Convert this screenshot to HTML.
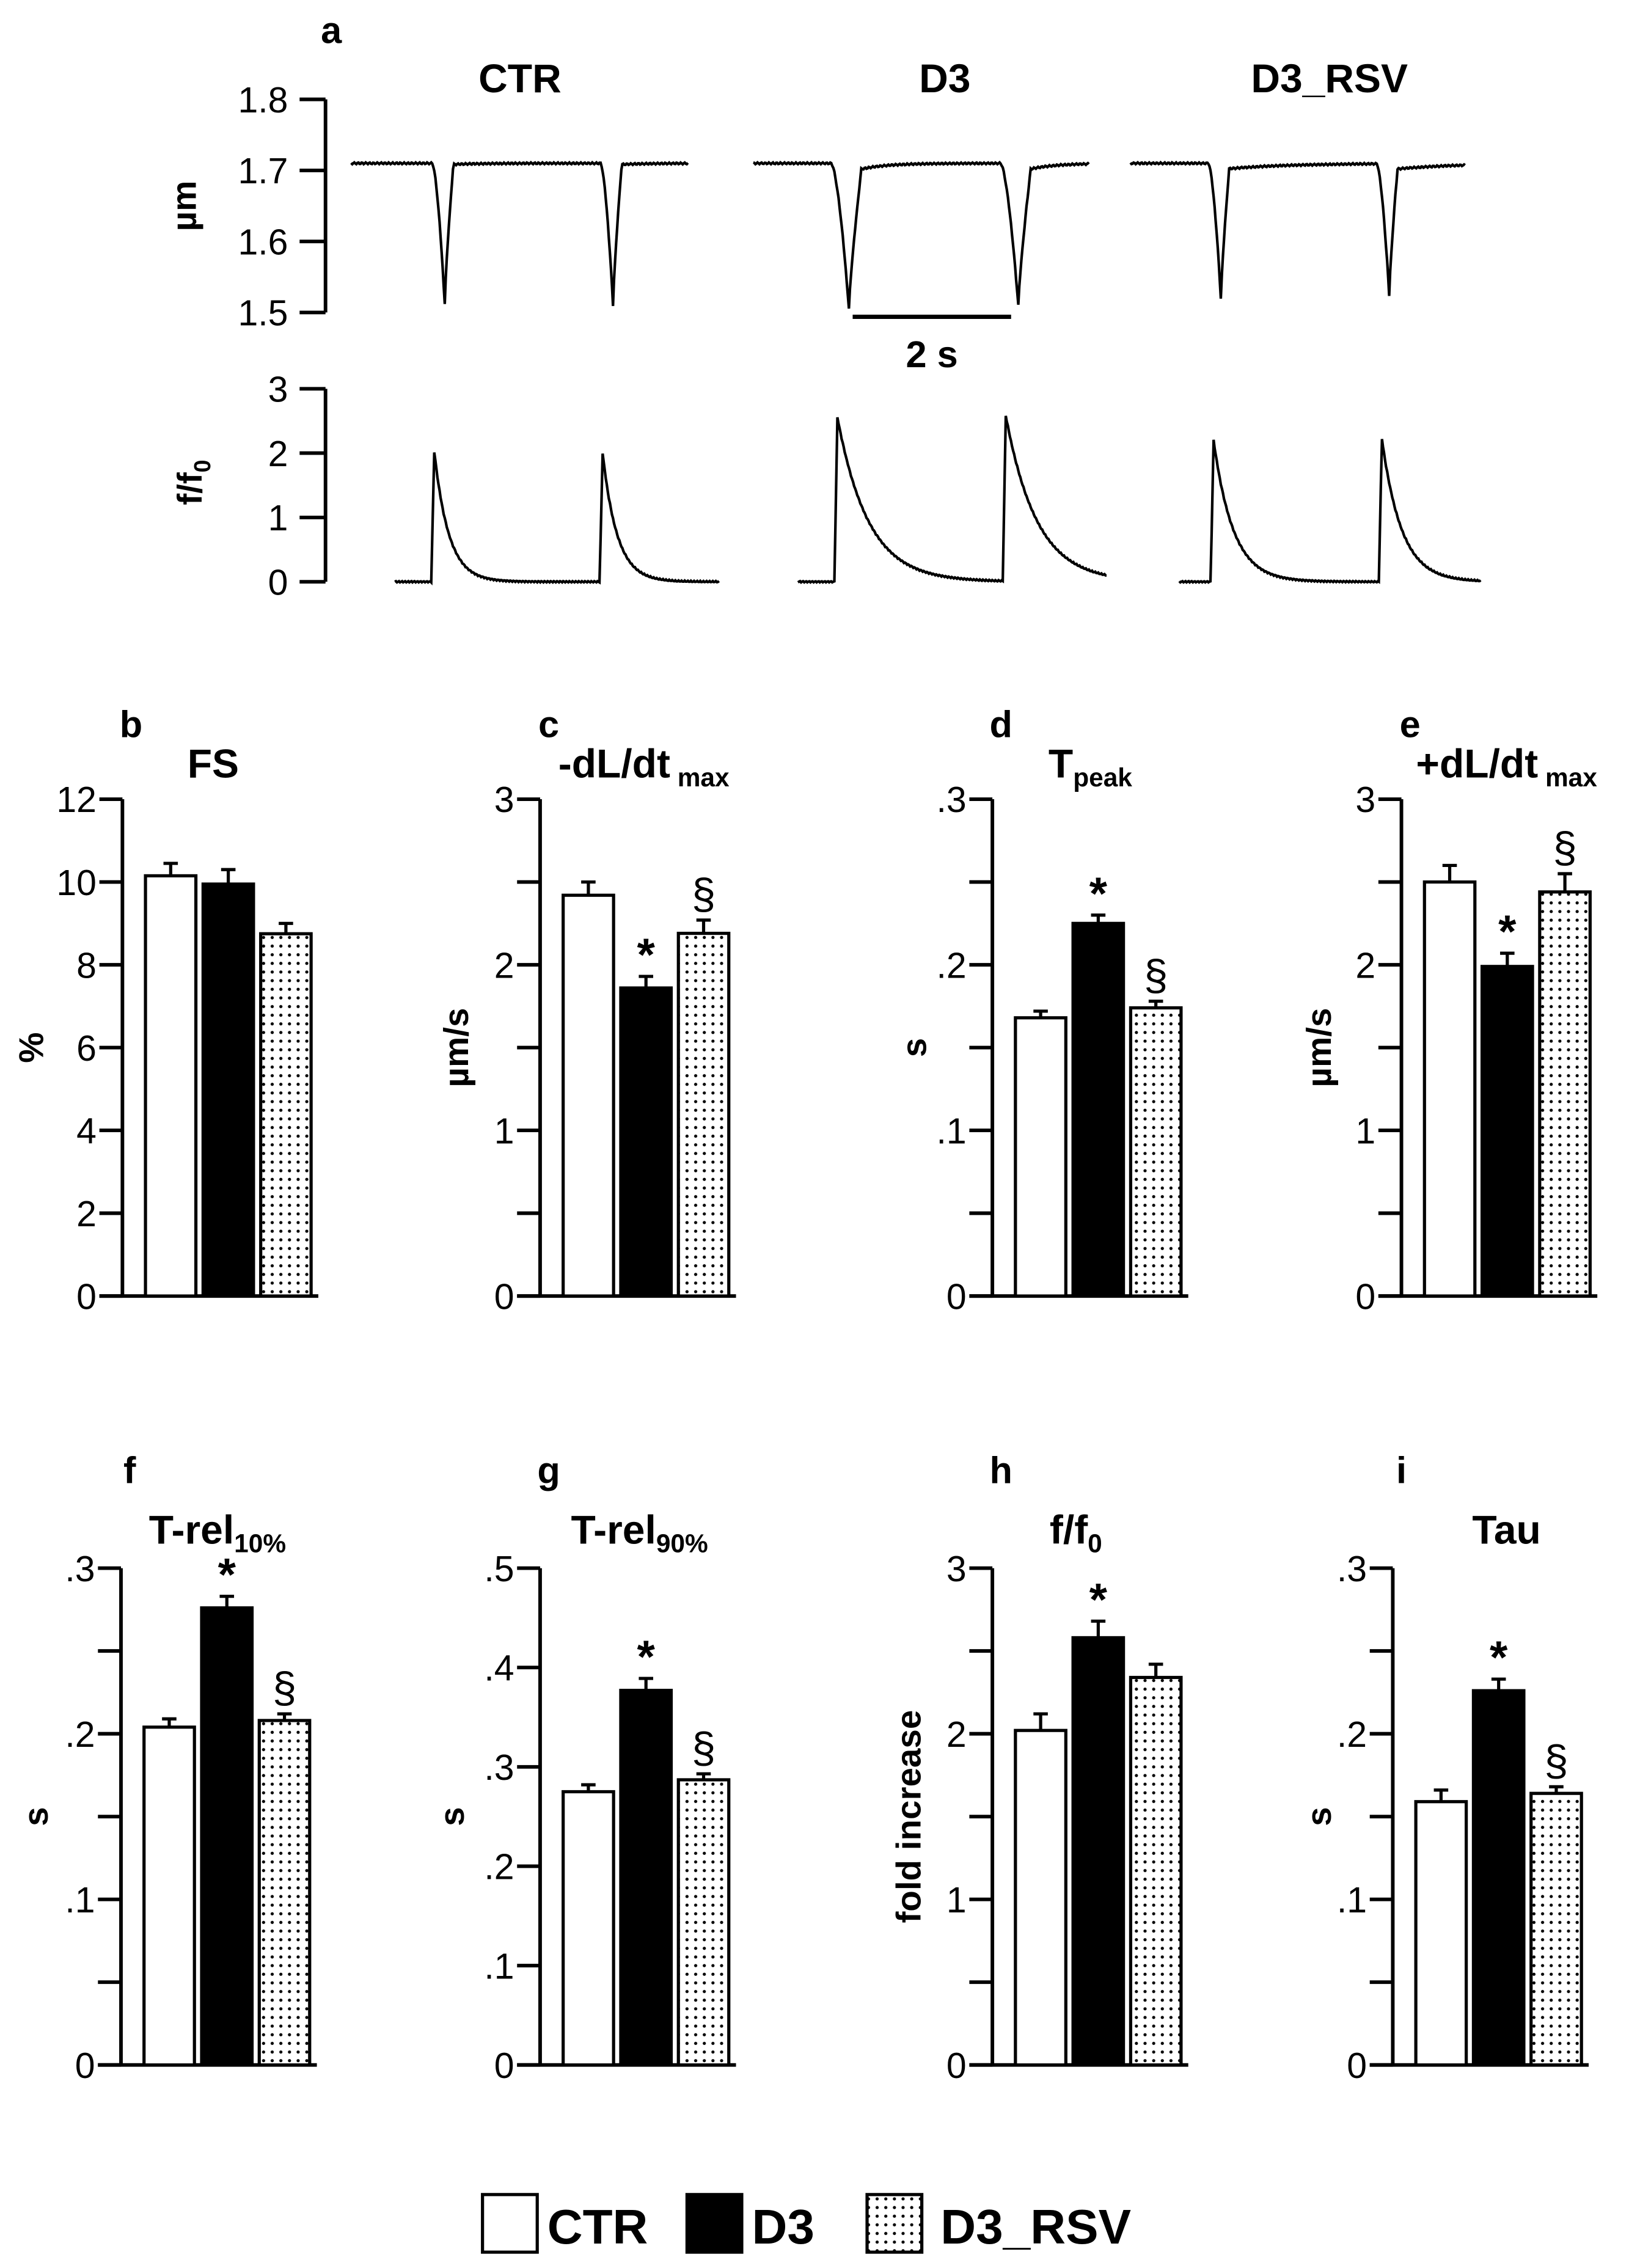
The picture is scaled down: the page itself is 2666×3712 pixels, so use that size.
<!DOCTYPE html>
<html><head><meta charset="utf-8">
<style>
html,body{margin:0;padding:0;background:#fff;}
svg{display:block;}
text{font-family:"Liberation Sans",sans-serif;fill:#000;}
.b{font-family:"Liberation Sans",sans-serif;font-weight:bold;}
</style></head>
<body>
<svg id="fig" xmlns="http://www.w3.org/2000/svg" width="2666" height="3712" viewBox="0 0 1131 1575" preserveAspectRatio="none">
<defs>
<pattern id="dots" width="6" height="6" patternUnits="userSpaceOnUse">
<rect width="6" height="6" fill="#fff"/><circle cx="3" cy="3" r="1.1" fill="#000"/>
</pattern>
</defs>
<g id="root"></g>
</svg>
<script>
// ---------- panel a data ----------
const traceGroups = ["CTR", "D3", "D3_RSV"];
const lenBaseline = [1.71, 1.71, 1.71];
const lenDipTimes = [[428, 590], [817, 980], [1175, 1337]];
const lenDipMins = [[1.513, 1.51], [1.505, 1.51], [1.52, 1.525]];
const lenRange = [[338, 662], [725, 1048], [1088, 1410]];
const caPeakTimes = [[418, 580], [806, 968], [1168, 1330]];
const caPeaks = [[2.02, 2.0], [2.55, 2.57], [2.2, 2.22]];
const caRange = [[380, 692], [768, 1065], [1135, 1425]];
const caTau = [14, 30, 19];
const lenTicks = [1.5, 1.6, 1.7, 1.8];
const caTicks = [0, 1, 2, 3];

// ---------- bar panels data ----------
const groups = ["CTR", "D3", "D3_RSV"];
const panelIds = ["b","c","d","e","f","g","h","i"];
const panelMax = [12, 3, 0.3, 3, 0.3, 0.5, 3, 0.3];
const panelMajor = [2, 1, 0.1, 1, 0.1, 0.1, 1, 0.1];
const panelMinor = [2, 0.5, 0.05, 0.5, 0.05, 0.1, 0.5, 0.05];
const meansB = [10.15, 9.95, 8.75];
const meansC = [2.42, 1.86, 2.19];
const meansD = [0.168, 0.225, 0.174];
const meansE = [2.50, 1.99, 2.44];
const meansF = [0.204, 0.276, 0.208];
const meansG = [0.275, 0.377, 0.287];
const meansH = [2.02, 2.58, 2.34];
const meansI = [0.159, 0.226, 0.164];
const errB = [0.3, 0.35, 0.25];
const errC = [0.08, 0.07, 0.08];
const errD = [0.004, 0.005, 0.004];
const errE = [0.10, 0.08, 0.11];
const errF = [0.005, 0.007, 0.004];
const errG = [0.007, 0.012, 0.006];
const errH = [0.10, 0.10, 0.08];
const errI = [0.007, 0.007, 0.004];
const sigB = ["", "", ""];
const sigC = ["", "*", "§"];
const sigD = ["", "*", "§"];
const sigE = ["", "*", "§"];
const sigF = ["", "*", "§"];
const sigG = ["", "*", "§"];
const sigH = ["", "*", ""];
const sigI = ["", "*", "§"];
const tickLabelsB = ["0","2","4","6","8","10","12"];
const tickLabels1 = ["0","1","2","3"];
const tickLabelsP3 = ["0",".1",".2",".3"];
const tickLabelsP5 = ["0",".1",".2",".3",".4",".5"];

const allMeans = [meansB, meansC, meansD, meansE, meansF, meansG, meansH, meansI];
const allErr = [errB, errC, errD, errE, errF, errG, errH, errI];
const allSig = [sigB, sigC, sigD, sigE, sigF, sigG, sigH, sigI];
const allTickLabels = [tickLabelsB, tickLabels1, tickLabelsP3, tickLabels1, tickLabelsP3, tickLabelsP5, tickLabels1, tickLabelsP3];

const NS = "http://www.w3.org/2000/svg";
const root = document.getElementById("root");
function mk(tag, attrs, parent, txt) {
  const e = document.createElementNS(NS, tag);
  for (const k in attrs) e.setAttribute(k, attrs[k]);
  if (txt !== undefined) e.textContent = txt;
  (parent || root).appendChild(e);
  return e;
}

// ---------- Panel a ----------
const ZX = 0.7214;
const gA = mk("g", {});


let t = mk("text", {x:230, y:30, "font-size":26, class:"b", "text-anchor":"middle"}, gA, "a");


const titleX = [361, 656, 923];
traceGroups.forEach((g, i) => {
  const e = mk("text", {x:titleX[i], y:64, "font-size":28, class:"b", "text-anchor":"middle"}, gA, g);
  
  
});
const axX = 226;
function yLen(v) { return 217 - (v - 1.5) / 0.3 * 148; }
function yCa(v) { return 404 - v / 3 * 134; }
let ax = mk("line", {x1:axX, y1:yLen(1.8), x2:axX, y2:yLen(1.5), stroke:"#000", "stroke-width":2.5}, gA);


lenTicks.forEach(v => {
  mk("line", {x1:axX-18, y1:yLen(v), x2:axX, y2:yLen(v), stroke:"#000", "stroke-width":2.5}, gA);
  const e = mk("text", {x:axX-26, y:yLen(v)+9, "font-size":25, "text-anchor":"end"}, gA, v.toFixed(1));
  
  
});
t = mk("text", {x:0, y:0, "font-size":24, class:"b", "text-anchor":"middle", transform:"translate(136,143) rotate(-90)"}, gA, "µm");


ax = mk("line", {x1:axX, y1:yCa(3), x2:axX, y2:yCa(0), stroke:"#000", "stroke-width":2.5}, gA);


caTicks.forEach(v => {
  mk("line", {x1:axX-18, y1:yCa(v), x2:axX, y2:yCa(v), stroke:"#000", "stroke-width":2.5}, gA);
  const e = mk("text", {x:axX-26, y:yCa(v)+9, "font-size":25, "text-anchor":"end"}, gA, String(v));
  
  
});
t = mk("text", {x:0, y:0, "font-size":24, class:"b", "text-anchor":"middle", transform:"translate(140,335) rotate(-90)"}, gA);
t.innerHTML = 'f/f<tspan font-size="16" dy="6">0</tspan>';


traceGroups.forEach((g, i) => {
  const [s, e] = lenRange[i];
  let d = "";
  for (let zx = s; zx <= e; zx += 1) {
    let v = lenBaseline[i];
    lenDipTimes[i].forEach((dt, k) => {
      const depth = lenBaseline[i] - lenDipMins[i][k];
      const fall = i === 1 ? 17 : 12, rise = i === 1 ? 12 : 8;
      let f = 0;
      if (zx >= dt - fall && zx <= dt) f = Math.pow((zx - (dt - fall)) / fall, 1.6);
      else if (zx > dt && zx <= dt + rise) f = 1 - Math.pow((zx - dt) / rise, 0.8) * 0.96;
      else if (zx > dt + rise) f = 0.04 * Math.exp(-(zx - dt - rise) / (i === 2 ? 60 : 25)) * (i === 0 ? 0.2 : 1);
      v -= depth * f;
    });
    v += 0.0012 * Math.sin(zx * 1.7);
    d += (d ? "L" : "M") + (zx * ZX).toFixed(1) + "," + yLen(v).toFixed(1);
  }
  const p = mk("path", {d:d, fill:"none", stroke:"#000", "stroke-width":1.8}, gA);
  
  
});
let sb = mk("line", {x1:592, y1:220, x2:702, y2:220, stroke:"#000", "stroke-width":3}, gA);


t = mk("text", {x:647, y:255, "font-size":26, class:"b", "text-anchor":"middle"}, gA, "2 s");


traceGroups.forEach((g, i) => {
  const [s, e] = caRange[i];
  let d = "";
  for (let zx = s; zx <= e; zx += 1) {
    let v = 0;
    caPeakTimes[i].forEach((pt, k) => {
      if (zx >= pt - 3 && zx < pt) v += caPeaks[i][k] * (zx - pt + 3) / 3;
      else if (zx >= pt) v += caPeaks[i][k] * Math.exp(-(zx - pt) / caTau[i]);
    });
    v += 0.01 * Math.sin(zx * 2.1);
    d += (d ? "L" : "M") + (zx * ZX).toFixed(1) + "," + yCa(v).toFixed(1);
  }
  const p = mk("path", {d:d, fill:"none", stroke:"#000", "stroke-width":1.8}, gA);
  
  
});

// ---------- Bar panels ----------
const axisXs = [85, 375, 689, 973, 84, 375, 689, 967];
const rowTop = [555, 1089], rowBot = [900, 1434];
const letterY = [512, 1030], titleY = [540, 1072];
const titleXs = [148, 447, 757, 1046, 151, 444, 747, 1046];
const titles = ['FS', '-dL/dt<tspan font-size="18" dy="6"> max</tspan>', 'T<tspan font-size="18" dy="6">peak</tspan>',
  '+dL/dt<tspan font-size="18" dy="6"> max</tspan>', 'T-rel<tspan font-size="18" dy="6">10%</tspan>',
  'T-rel<tspan font-size="18" dy="6">90%</tspan>', 'f/f<tspan font-size="18" dy="6">0</tspan>', 'Tau'];
const ylabels = ["%", "µm/s", "s", "µm/s", "s", "s", "fold increase", "s"];
const ylabelXs = [22, 317, 635, 916, 25, 314, 631, 916];
const fills = ["#fff", "#000", "url(#dots)"];
const barOff = [16, 56, 96], barW = 35;

panelIds.forEach((id, p) => {
  const row = p < 4 ? 0 : 1;
  const top = rowTop[row], bot = rowBot[row], x0 = axisXs[p], mx = panelMax[p];
  const y = v => bot - v / mx * (bot - top);
  const g = mk("g", {});
  
  
  let e = mk("text", {x:x0 + 6, y:letterY[row], "font-size":26, class:"b", "text-anchor":"middle"}, g, id);
  
  
  e = mk("text", {x:titleXs[p], y:titleY[row], "font-size":28, class:"b", "text-anchor":"middle"}, g);
  e.innerHTML = titles[p];
  
  
  e = mk("text", {x:0, y:0, "font-size":24, class:"b", "text-anchor":"middle", transform:"translate(" + (ylabelXs[p] + 8) + "," + ((top + bot) / 2) + ") rotate(-90)"}, g, ylabels[p]);
  
  
  e = mk("line", {x1:x0, y1:top, x2:x0, y2:bot, stroke:"#000", "stroke-width":2.5}, g);
  
  
  e = mk("line", {x1:x0 - 16, y1:bot, x2:x0 + 136, y2:bot, stroke:"#000", "stroke-width":2.5}, g);
  
  
  const nMinor = Math.round(mx / panelMinor[p]);
  for (let k = 0; k <= nMinor; k++) {
    const v = k * panelMinor[p];
    mk("line", {x1:x0 - 16, y1:y(v), x2:x0, y2:y(v), stroke:"#000", "stroke-width":2.5}, g);
  }
  allTickLabels[p].forEach((lab, k) => {
    const v = k * panelMajor[p];
    const tl = mk("text", {x:x0 - 18, y:y(v) + 9, "font-size":25, "text-anchor":"end"}, g, lab);
    
    
  });
  groups.forEach((gr, k) => {
    const m = allMeans[p][k], er = allErr[p][k];
    const bx = x0 + barOff[k];
    const cx = bx + barW / 2;
    const r = mk("rect", {x:bx, y:y(m), width:barW, height:bot - y(m), fill:fills[k], stroke:"#000", "stroke-width":2.2}, g);
    
    
    const eb = mk("path", {d:"M" + cx + "," + y(m) + "V" + y(m + er) + "M" + (cx - 5) + "," + y(m + er) + "H" + (cx + 5), stroke:"#000", "stroke-width":2.2, fill:"none"}, g);
    
    
    const s = allSig[p][k];
    if (s === "*") {
      const st = mk("text", {x:cx, y:y(m + er) - 4, "font-size":32, class:"b", "text-anchor":"middle"}, g, "*");
      
      
    } else if (s === "§") {
      const st = mk("text", {x:cx, y:y(m + er) - 8, "font-size":30, "text-anchor":"middle"}, g, "§");
      
      
    }
  });
});

// ---------- Legend ----------
const lg = mk("g", {});


const legBoxX = [335, 477, 602], legTextX = [380, 522, 653];
groups.forEach((gr, k) => {
  const r = mk("rect", {x:legBoxX[k], y:1524, width:38, height:40, fill:fills[k], stroke:"#000", "stroke-width":2.2}, lg);
  
  
  const tx = mk("text", {x:legTextX[k], y:1558, "font-size":34, class:"b"}, lg, gr);
  
  
});
</script>
</body></html>
